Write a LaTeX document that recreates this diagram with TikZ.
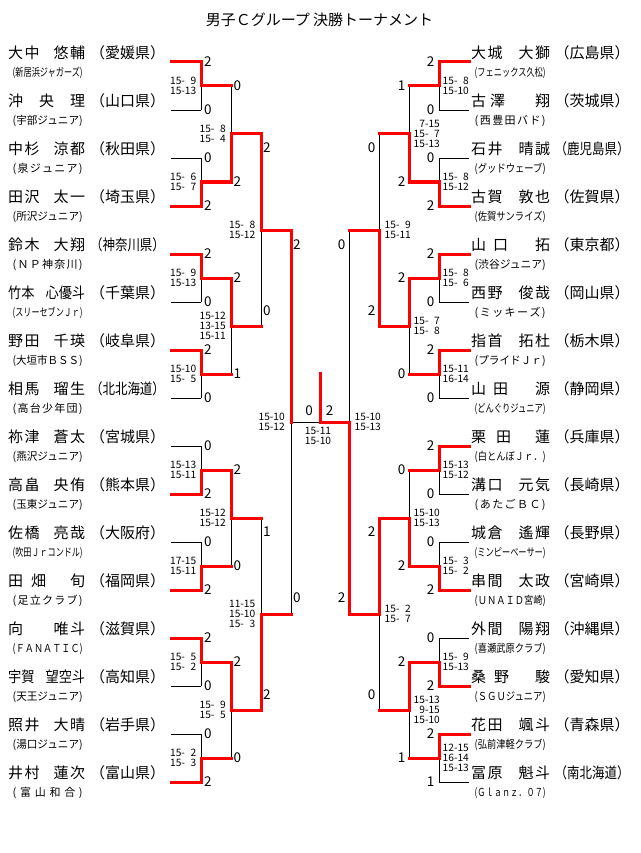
\documentclass[tikz,border=0pt]{standalone}
\usepackage{fontspec}
\usepackage{graphicx}
\setmainfont{Noto Sans CJK JP}
\newlength\afflen
\def\distA#1{\ifx\relax#1\else #1\expandafter\distB\fi}
\def\distB#1{\ifx\relax#1\else\hfill #1\expandafter\distB\fi}
\newcommand\affbox[2]{\settowidth\afflen{#2}\ifdim\afflen>#1\relax\resizebox{#1}{\height}{#2}\else\makebox[#1][s]{\expandafter\distA#2\relax}\fi}
\newcommand\kk{\hspace{1.5pt}}
\newcommand\dsp{\phantom{0}}
\newcommand\pfs[1]{\scalebox{0.833}[1]{#1}}
\newcommand\nsq[1]{\scalebox{0.88}[1]{#1}}
\begin{document}
\begin{tikzpicture}[x=1pt,y=-1pt,
 thinl/.style={line width=0.9pt},
 redl/.style={line width=3pt, draw=red, line cap=rect},
 sc/.style={font=\fontsize{10.2}{9.7}\selectfont, inner sep=0pt, align=right},
 num/.style={font=\fontsize{13.5}{14}\selectfont, inner sep=0pt, text height=8.8pt, text depth=0pt},
 nm/.style={font=\fontsize{15}{16}\selectfont, inner sep=0pt, text height=13.2pt, text depth=1.8pt},
 aff/.style={font=\fontsize{11}{12}\selectfont, inner sep=0pt, text height=9.7pt, text depth=1.3pt}]
\fill[white] (0,0) rectangle (640,853);
\useasboundingbox (0,0) rectangle (640,853);
\node[nm] (title) at (319.5,19.5) {男子Ｃグループ 決勝トーナメント};
% ---------- black lines
\foreach \i in {0,...,15} {
  \draw[thinl] (171,62+48*\i) -- (201,62+48*\i);
  \draw[thinl] (439,62+48*\i) -- (469,62+48*\i);
}
\foreach \k in {0,...,7} {
  \draw[thinl] (201,62+96*\k) -- (201,110+96*\k);
  \draw[thinl] (439,62+96*\k) -- (439,110+96*\k);
}
\foreach \k in {0,...,3} {
  \draw[thinl] (231,86+192*\k) -- (231,182+192*\k);
  \draw[thinl] (409,86+192*\k) -- (409,182+192*\k);
}
\foreach \k in {0,1} {
  \draw[thinl] (261,134+384*\k) -- (261,326+384*\k);
  \draw[thinl] (379,134+384*\k) -- (379,326+384*\k);
}
\draw[thinl] (291,230) -- (291,614);
\draw[thinl] (349,230) -- (349,614);
\draw[thinl] (291,422) -- (349,422);
% ---------- red lines
\foreach \k/\s in {0/-1,1/1,2/-1,3/-1,4/1,5/1,6/-1,7/1}
  \draw[redl] (171,86+96*\k+24*\s) -- (201,86+96*\k+24*\s) -- (201,86+96*\k) -- (231,86+96*\k);
\foreach \k/\s in {0/1,1/-1,2/-1,3/-1}
  \draw[redl] (231,134+192*\k+48*\s) -- (231,134+192*\k) -- (261,134+192*\k);
\foreach \k/\s in {0/-1,1/1}
  \draw[redl] (261,230+384*\k+96*\s) -- (261,230+384*\k) -- (291,230+384*\k);
\draw[redl] (291,230) -- (291,422);
\foreach \k/\s in {0/-1,1/1,2/-1,3/-1,4/-1,5/1,6/1,7/-1}
  \draw[redl] (469,86+96*\k+24*\s) -- (439,86+96*\k+24*\s) -- (439,86+96*\k) -- (409,86+96*\k);
\foreach \k/\s in {0/1,1/-1,2/1,3/-1}
  \draw[redl] (409,134+192*\k+48*\s) -- (409,134+192*\k) -- (379,134+192*\k);
\foreach \k/\s in {0/1,1/-1}
  \draw[redl] (379,230+384*\k+96*\s) -- (379,230+384*\k) -- (349,230+384*\k);
\draw[redl] (349,614) -- (349,422) -- (320,422) -- (320,373);
% ---------- game counts
\foreach \v [count=\i from 0] in {2,0,0,2,2,0,2,0,0,2,0,2,2,0,0,2}
  \node[num,anchor=west] (nl1-\i) at (204,62+48*\i) {\v};
\foreach \v [count=\i from 0] in {0,2,2,1,2,0,2,0}
  \node[num,anchor=west] (nl2-\i) at (233.5,86+96*\i) {\v};
\foreach \v [count=\i from 0] in {2,1}
  \node[num,anchor=west] (nl3t-\i) at (263,148.5+384*\i) {\v};
\foreach \v [count=\i from 0] in {0,2}
  \node[num,anchor=west] (nl3b-\i) at (263,311.5+384*\i) {\v};
\node[num,anchor=west] (nl4t) at (293,245.5) {2};
\node[num,anchor=west] (nl4b) at (293,598.5) {0};
\foreach \v [count=\i from 0] in {2,0,0,2,2,0,2,0,2,0,0,2,0,2,2,1}
  \node[num,anchor=east] (nr1-\i) at (434.5,62+48*\i) {\v};
\foreach \v [count=\i from 0] in {1,2,2,0,0,2,2,1}
  \node[num,anchor=east] (nr2-\i) at (405.5,86+96*\i) {\v};
\foreach \v [count=\i from 0] in {0,2}
  \node[num,anchor=east] (nr3t-\i) at (375.5,148.5+384*\i) {\v};
\foreach \v [count=\i from 0] in {2,0}
  \node[num,anchor=east] (nr3b-\i) at (375.5,311.5+384*\i) {\v};
\node[num,anchor=east] (nr4t) at (345.5,245.5) {0};
\node[num,anchor=east] (nr4b) at (345.5,598.5) {2};
\node[num] (nfl) at (309,411.5) {0};
\node[num] (nfr) at (329.5,411.5) {2};
% ---------- set scores
\foreach \t [count=\k from 0] in {{15-\dsp9\\15-13},{15-\dsp6\\15-\dsp7},{15-\dsp9\\15-13},{15-10\\15-\dsp5},{15-13\\15-11},{17-15\\15-11},{15-\dsp5\\15-\dsp2},{15-\dsp2\\15-\dsp3}}
  \node[sc,anchor=east] (sl1-\k) at (196.5,86+96*\k) {\t};
\foreach \t [count=\k from 0] in {{15-\dsp8\\15-\dsp4},{15-12\\13-15\\15-11},{15-12\\15-12},{15-\dsp9\\15-\dsp5}}
  \node[sc,anchor=east] (sl2-\k) at (226,134+192*\k) {\t};
\foreach \t [count=\k from 0] in {{15-\dsp8\\15-12},{11-15\\15-10\\15-\dsp3}}
  \node[sc,anchor=east] (sl3-\k) at (255.5,230+384*\k) {\t};
\node[sc,anchor=east] (sl4) at (285,422) {15-10\\15-12};
\foreach \t [count=\k from 0] in {{15-\dsp8\\15-10},{15-\dsp8\\15-12},{15-\dsp8\\15-\dsp6},{15-11\\16-14},{15-13\\15-12},{15-\dsp3\\15-\dsp2},{15-\dsp9\\15-13},{12-15\\16-14\\15-13}}
  \node[sc,anchor=west] (sr1-\k) at (442.5,86+96*\k) {\t};
\foreach \t [count=\k from 0] in {{7-15\\15-\dsp7\\15-13},{15-\dsp7\\15-\dsp8},{15-10\\15-13},{15-13\\9-15\\15-10}}
  \node[sc,anchor=west] (sr2-\k) at (413.5,134+192*\k) {\t};
\foreach \t [count=\k from 0] in {{15-\dsp9\\15-11},{15-\dsp2\\15-\dsp7}}
  \node[sc,anchor=west] (sr3-\k) at (384.5,230+384*\k) {\t};
\node[sc,anchor=west] (sr4) at (354.5,422) {15-10\\15-13};
\node[sc,align=center] (sfin) at (318,436) {15-11\\15-10};
% ---------- players left
\foreach \vN/\vP/\vA [count=\i from 0] in {
 {大\kk 中\hfill 悠\kk 輔}/{（愛媛県）}/{(新居浜ジャガーズ)},
 {沖\hfill 央\hfill 理}/{（山口県）}/{(宇部ジュニア)},
 {中\kk 杉\hfill 涼\kk 都}/{（秋田県）}/{(泉ジュニア)},
 {田\kk 沢\hfill 太\kk 一}/{（埼玉県）}/{(所沢ジュニア)},
 {鈴\kk 木\hfill 大\kk 翔}/{\pfs{（神奈川県）}}/{(ＮＰ神奈川)},
 {\nsq{竹本}\hfill\nsq{心優斗}}/{（千葉県）}/{(スリーセブンＪｒ)},
 {野\kk 田\hfill 千\kk 瑛}/{（岐阜県）}/{(大垣市ＢＳＳ)},
 {相\kk 馬\hfill 瑠\kk 生}/{\pfs{（北北海道）}}/{(高台少年団)},
 {祢\kk 津\hfill 蒼\kk 太}/{（宮城県）}/{(燕沢ジュニア)},
 {高\kk 畠\hfill 央\kk 侑}/{（熊本県）}/{(玉東ジュニア)},
 {佐\kk 橋\hfill 亮\kk 哉}/{（大阪府）}/{(吹田Ｊｒコンドル)},
 {田\hspace{8pt}畑\hfill 旬}/{（福岡県）}/{(足立クラブ)},
 {向\hfill 唯\kk 斗}/{（滋賀県）}/{(ＦＡＮＡＴＩＣ)},
 {\nsq{宇賀}\hfill\nsq{望空斗}}/{（高知県）}/{(天王ジュニア)},
 {照\kk 井\hfill 大\kk 晴}/{（岩手県）}/{(湯口ジュニア)},
 {井\kk 村\hfill 蓮\kk 次}/{（富山県）}/{(富山和合)}}{
  \node[nm,anchor=west] (ln\i) at (8,53+48*\i) {\makebox[77pt]{\vN}};
  \node[nm] (lp\i) at (127.5,53+48*\i) {\vP};
  \node[aff,anchor=west] (la\i) at (12.5,72.5+48*\i) {\affbox{70pt}{\vA}};
}
% ---------- players right
\foreach \vN/\vP/\vA [count=\i from 0] in {
 {大\kk 城\hfill 大\kk 獅}/{（広島県）}/{(フェニックス久松)},
 {古\hspace{4pt}澤\hfill 翔}/{（茨城県）}/{(西豊田バド)},
 {石\kk 井\hfill 晴\kk 誠}/{\pfs{（鹿児島県）}}/{(グッドウェーブ)},
 {古\kk 賀\hfill 敦\kk 也}/{（佐賀県）}/{(佐賀サンライズ)},
 {山\hspace{7pt}口\hfill 拓}/{（東京都）}/{(渋谷ジュニア)},
 {西\kk 野\hfill 俊\kk 哉}/{（岡山県）}/{(ミッキーズ)},
 {指\kk 首\hfill 拓\kk 杜}/{（栃木県）}/{(プライドＪｒ)},
 {山\hspace{7pt}田\hfill 源}/{（静岡県）}/{(どんぐりジュニア)},
 {栗\hspace{10pt}田\hfill 蓮}/{（兵庫県）}/{(白とんぼＪｒ．)},
 {溝\kk 口\hfill 元\kk 気}/{（長崎県）}/{(あたごＢＣ)},
 {城\kk 倉\hfill 遙\kk 輝}/{（長野県）}/{(ミンピーベーサー)},
 {串\kk 間\hfill 太\kk 政}/{（宮崎県）}/{(ＵＮＡＩＤ宮崎)},
 {外\kk 間\hfill 陽\kk 翔}/{（沖縄県）}/{(喜瀬武原クラブ)},
 {桑\hspace{8pt}野\hfill 駿}/{（愛知県）}/{(ＳＧＵジュニア)},
 {花\kk 田\hfill 颯\kk 斗}/{（青森県）}/{(弘前津軽クラブ)},
 {冨\kk 原\hfill 魁\kk 斗}/{\pfs{（南北海道）}}/{(Ｇｌａｎｚ．０７)}}{
  \node[nm,anchor=west] (rn\i) at (471,53+48*\i) {\makebox[79pt]{\vN}};
  \node[nm] (rp\i) at (592,53+48*\i) {\vP};
  \node[aff,anchor=west] (ra\i) at (474.5,72.5+48*\i) {\affbox{71pt}{\vA}};
}
\end{tikzpicture}
\end{document}
